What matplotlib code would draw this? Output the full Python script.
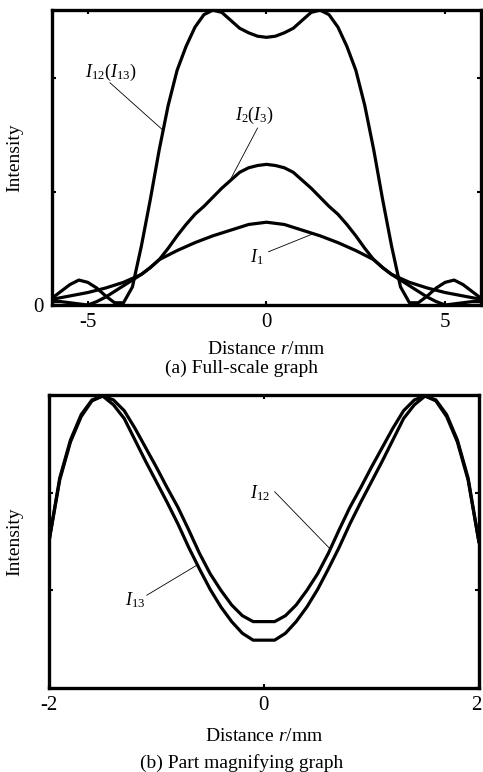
import numpy as np
import matplotlib
matplotlib.use("Agg")
import matplotlib.pyplot as plt
from matplotlib.transforms import ScaledTranslation

plt.rcParams['font.family'] = ['Liberation Serif', 'DejaVu Serif']
plt.rcParams['mathtext.fontset'] = 'custom'
plt.rcParams['mathtext.rm'] = 'Liberation Serif'
plt.rcParams['mathtext.it'] = 'Liberation Serif:italic'

# ---------------- (a) full-scale data ----------------
r_full = [-6.0, -5.75, -5.5, -5.25, -5.0, -4.75, -4.5, -4.25, -4.0, -3.75, -3.5, -3.25,
          -3.0, -2.75, -2.5, -2.25, -2.0, -1.75, -1.5, -1.25, -1.0, -0.75, -0.5, -0.25,
          0.0, 0.25, 0.5, 0.75, 1.0, 1.25, 1.5, 1.75, 2.0, 2.25, 2.5, 2.75,
          3.0, 3.25, 3.5, 3.75, 4.0, 4.25, 4.5, 4.75, 5.0, 5.25, 5.5, 5.75, 6.0]

I12_full = [0.06, 0.12, 0.18, 0.22, 0.20, 0.15, 0.08, 0.02, 0.02, 0.16, 0.52, 0.93,
            1.37, 1.76, 2.07, 2.28, 2.45, 2.56, 2.60, 2.58, 2.51, 2.44, 2.40, 2.37,
            2.36, 2.37, 2.40, 2.44, 2.51, 2.58, 2.60, 2.56, 2.45, 2.28, 2.07, 1.76,
            1.37, 0.93, 0.52, 0.16, 0.02, 0.02, 0.08, 0.15, 0.20, 0.22, 0.18, 0.12, 0.06]

I2_full = [0.03, 0.03, 0.02, 0.01, 0.00, 0.03, 0.07, 0.12, 0.17, 0.22, 0.27, 0.33,
           0.40, 0.50, 0.61, 0.71, 0.80, 0.87, 0.95, 1.03, 1.10, 1.17, 1.21, 1.23,
           1.24, 1.23, 1.21, 1.17, 1.10, 1.03, 0.95, 0.87, 0.80, 0.71, 0.61, 0.50,
           0.40, 0.33, 0.27, 0.22, 0.17, 0.12, 0.07, 0.03, 0.00, 0.01, 0.02, 0.03, 0.03]

r_I1 = [-6.0, -5.5, -5.0, -4.5, -4.0, -3.5, -3.25, -3.0, -2.5, -2.0, -1.5, -1.0, -0.5,
        0.0, 0.5, 1.0, 1.5, 2.0, 2.5, 3.0, 3.25, 3.5, 4.0, 4.5, 5.0, 5.5, 6.0]
I1_full = [0.05, 0.08, 0.11, 0.15, 0.20, 0.27, 0.33, 0.40, 0.48, 0.55, 0.61, 0.66, 0.71,
           0.73, 0.71, 0.66, 0.61, 0.55, 0.48, 0.40, 0.33, 0.27, 0.20, 0.15, 0.11, 0.08, 0.05]

xticks_a = [-5, 0, 5]
xticklabels_a = ['-5', '0', '5']
yticks_a = [0, 1, 2]
yticklabels_a = ['0', '', '']

# ---------------- (b) magnified data ----------------
r_part = [-2.0, -1.9, -1.8, -1.7, -1.6, -1.5, -1.4, -1.3, -1.2, -1.1, -1.0, -0.9, -0.8,
          -0.7, -0.6, -0.5, -0.4, -0.3, -0.2, -0.1, 0.0, 0.1, 0.2, 0.3, 0.4, 0.5, 0.6,
          0.7, 0.8, 0.9, 1.0, 1.1, 1.2, 1.3, 1.4, 1.5, 1.6, 1.7, 1.8, 1.9, 2.0]
I12_part = [1.50, 2.15, 2.54, 2.80, 2.95, 2.99, 2.95, 2.84, 2.66, 2.46, 2.26, 2.05, 1.85,
            1.62, 1.38, 1.17, 1.00, 0.85, 0.74, 0.68, 0.68, 0.68, 0.74, 0.85, 1.00, 1.17, 1.38,
            1.62, 1.85, 2.05, 2.26, 2.46, 2.66, 2.84, 2.95, 2.99, 2.95, 2.80, 2.54, 2.15, 1.50]
I13_part = [1.50, 2.13, 2.52, 2.78, 2.94, 2.99, 2.90, 2.76, 2.54, 2.32, 2.11, 1.90, 1.68,
            1.44, 1.22, 1.01, 0.83, 0.68, 0.56, 0.49, 0.49, 0.49, 0.56, 0.68, 0.83, 1.01, 1.22,
            1.44, 1.68, 1.90, 2.11, 2.32, 2.54, 2.76, 2.90, 2.99, 2.94, 2.78, 2.52, 2.13, 1.50]

xticks_b = [-2, 0, 2]
xticklabels_b = ['-2', '0', '2']
yticks_b = [0, 1, 2, 3]

LW = 2.3
FS_LAB = 14
FS_ANN = 13
FS_TICK = 15

fig = plt.figure(figsize=(4.83, 7.72), dpi=100)

def style(ax):
    for s in ax.spines.values():
        s.set_linewidth(2.4)
    ax.tick_params(direction='in', length=3, width=1.5, top=True, right=True,
                   labelsize=FS_TICK, pad=6)

# ---- (a)
ax1 = fig.add_axes([0.1077, 0.6049, 0.888, 0.382])
ax1.plot(r_full, I12_full, color='black', lw=LW)
ax1.plot(r_full, I2_full, color='black', lw=LW)
ax1.plot(r_I1, I1_full, color='black', lw=LW)
ax1.set_xlim(-6, 6)
ax1.set_ylim(0, 2.6)
ax1.set_xticks(xticks_a)
ax1.set_xticklabels(xticklabels_a)
ax1.set_yticks(yticks_a)
ax1.set_yticklabels(yticklabels_a)
style(ax1)
ax1.set_xlabel('Distance $r$/mm', fontsize=FS_LAB, labelpad=6)
ax1.set_ylabel('Intensity', fontsize=FS_LAB)
ax1.yaxis.set_label_coords(-0.066, 0.5)

ax1.plot([-4.38, -2.89], [1.96, 1.54], color='black', lw=0.6)
ax1.text(-5.08, 2.05, r'$I_{\mathrm{12}}(I_{\mathrm{13}})$', fontsize=FS_ANN, va='center', ha='left')
ax1.plot([-0.25, -1.07], [1.56, 1.07], color='black', lw=0.6)
ax1.text(-0.87, 1.67, r'$I_{\mathrm{2}}(I_{\mathrm{3}})$', fontsize=FS_ANN, va='center', ha='left')
ax1.plot([0.06, 1.32], [0.47, 0.63], color='black', lw=0.6)
ax1.text(-0.45, 0.42, r'$I_{\mathrm{1}}$', fontsize=FS_ANN, va='center', ha='left')

fig.text(0.5, 1 - 368 / 772, '(a) Full-scale graph', fontsize=FS_LAB, ha='center', va='center')

# ---- (b)
ax2 = fig.add_axes([0.1014, 0.1088, 0.890, 0.3795])
ax2.plot(r_part, I12_part, color='black', lw=LW)
ax2.plot(r_part, I13_part, color='black', lw=LW)
ax2.set_xlim(-2, 2)
ax2.set_ylim(0, 3)
ax2.set_xticks(xticks_b)
ax2.set_xticklabels(xticklabels_b)
ax2.set_yticks(yticks_b)
ax2.set_yticklabels([])
style(ax2)
ax2.set_xlabel('Distance $r$/mm', fontsize=FS_LAB, labelpad=9)
ax2.set_ylabel('Intensity', fontsize=FS_LAB)
ax2.yaxis.set_label_coords(-0.06, 0.5)

# keep the rightmost tick label inside the canvas
last = ax2.get_xticklabels()[-1]
last.set_transform(last.get_transform() + ScaledTranslation(-3 / 100, 0, fig.dpi_scale_trans))

ax2.plot([0.10, 0.62], [2.01, 1.42], color='black', lw=0.6)
ax2.text(-0.13, 2.0, r'$I_{\mathrm{12}}$', fontsize=FS_ANN, va='center', ha='left')
ax2.plot([-1.09, -0.62], [0.95, 1.26], color='black', lw=0.6)
ax2.text(-1.29, 0.90, r'$I_{\mathrm{13}}$', fontsize=FS_ANN, va='center', ha='left')

fig.text(0.5, 1 - 763 / 772, '(b) Part magnifying graph', fontsize=FS_LAB, ha='center', va='center')

fig.savefig('out.png', dpi=100)
